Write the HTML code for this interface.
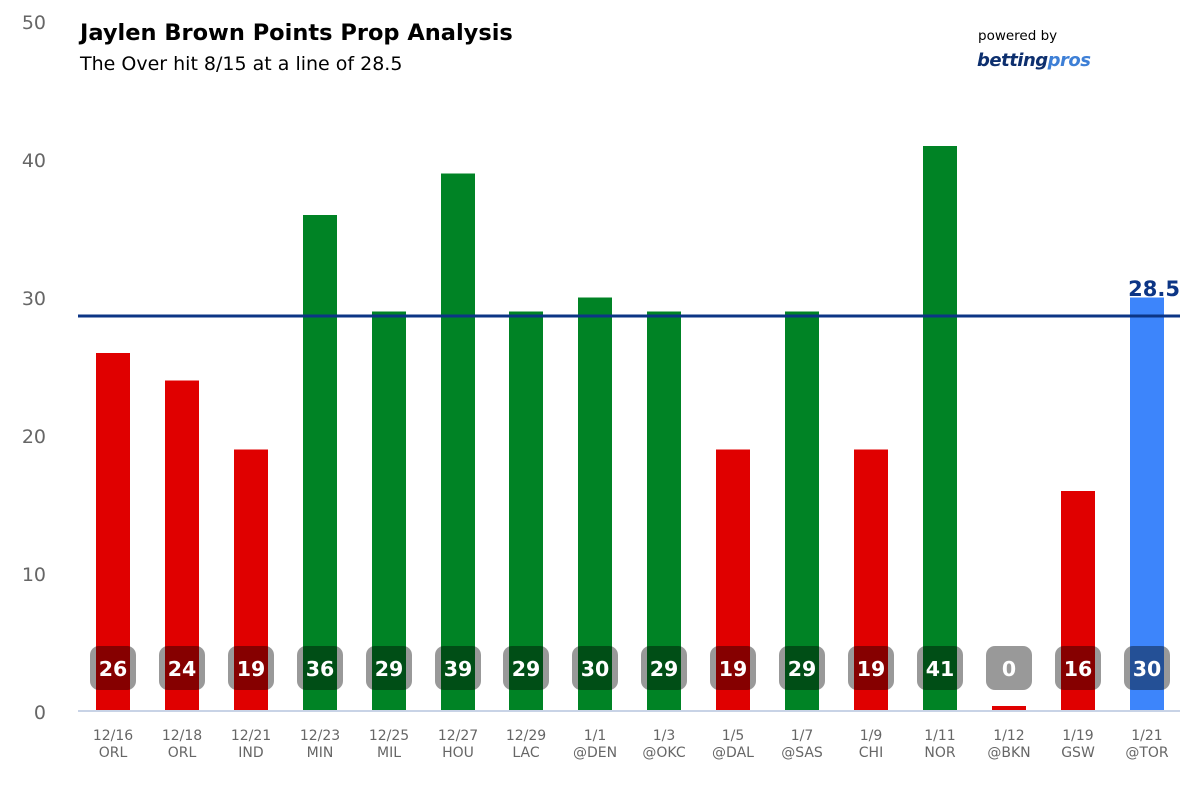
<!DOCTYPE html>
<html><head><meta charset="utf-8"><style>body{margin:0;background:#fff}svg{display:block}</style></head><body>
<svg width="1200" height="800" viewBox="0 0 1200 800" xmlns="http://www.w3.org/2000/svg" font-family="DejaVu Sans, Liberation Sans, sans-serif">
<rect width="1200" height="800" fill="#fff"/>
<g fill="#666" font-size="19" text-anchor="end">
<text x="46" y="29">50</text><text x="46" y="167">40</text><text x="46" y="305">30</text><text x="46" y="443">20</text><text x="46" y="581">10</text><text x="46" y="719">0</text>
</g>
<text x="80" y="40" font-size="22.5" font-weight="bold" fill="#000">Jaylen Brown Points Prop Analysis</text>
<text x="80" y="70" font-size="19" fill="#000">The Over hit 8/15 at a line of 28.5</text>
<text x="978" y="40" font-size="13.5" fill="#000">powered by</text>
<text x="977" y="66" font-size="18" font-weight="bold" font-style="italic" fill="#0d2f6e" letter-spacing="-0.5">betting<tspan fill="#3d7fd6">pros</tspan></text>
<g>
<rect x="96" y="353" width="34" height="357" fill="#e00000"/>
<rect x="165" y="380.5" width="34" height="329.5" fill="#e00000"/>
<rect x="234" y="449.5" width="34" height="260.5" fill="#e00000"/>
<rect x="303" y="215" width="34" height="495" fill="#008325"/>
<rect x="372" y="311.5" width="34" height="398.5" fill="#008325"/>
<rect x="441" y="173.5" width="34" height="536.5" fill="#008325"/>
<rect x="509" y="311.5" width="34" height="398.5" fill="#008325"/>
<rect x="578" y="297.5" width="34" height="412.5" fill="#008325"/>
<rect x="647" y="311.5" width="34" height="398.5" fill="#008325"/>
<rect x="716" y="449.5" width="34" height="260.5" fill="#e00000"/>
<rect x="785" y="311.5" width="34" height="398.5" fill="#008325"/>
<rect x="854" y="449.5" width="34" height="260.5" fill="#e00000"/>
<rect x="923" y="146" width="34" height="564" fill="#008325"/>
<rect x="992" y="706" width="34" height="4" fill="#e00000"/>
<rect x="1061" y="491" width="34" height="219" fill="#e00000"/>
<rect x="1130" y="297.5" width="34" height="412.5" fill="#3d85fb"/>
</g>
<g fill="#000" fill-opacity="0.4">
<rect x="90" y="646" width="46" height="44" rx="9"/><rect x="159" y="646" width="46" height="44" rx="9"/><rect x="228" y="646" width="46" height="44" rx="9"/><rect x="297" y="646" width="46" height="44" rx="9"/><rect x="366" y="646" width="46" height="44" rx="9"/><rect x="435" y="646" width="46" height="44" rx="9"/><rect x="503" y="646" width="46" height="44" rx="9"/><rect x="572" y="646" width="46" height="44" rx="9"/><rect x="641" y="646" width="46" height="44" rx="9"/><rect x="710" y="646" width="46" height="44" rx="9"/><rect x="779" y="646" width="46" height="44" rx="9"/><rect x="848" y="646" width="46" height="44" rx="9"/><rect x="917" y="646" width="46" height="44" rx="9"/><rect x="986" y="646" width="46" height="44" rx="9"/><rect x="1055" y="646" width="46" height="44" rx="9"/><rect x="1124" y="646" width="46" height="44" rx="9"/>
</g>
<g fill="#fff" font-size="20.5" font-weight="bold" text-anchor="middle">
<text x="113" y="676">26</text><text x="182" y="676">24</text><text x="251" y="676">19</text><text x="320" y="676">36</text><text x="389" y="676">29</text><text x="458" y="676">39</text><text x="526" y="676">29</text><text x="595" y="676">30</text><text x="664" y="676">29</text><text x="733" y="676">19</text><text x="802" y="676">29</text><text x="871" y="676">19</text><text x="940" y="676">41</text><text x="1009" y="676">0</text><text x="1078" y="676">16</text><text x="1147" y="676">30</text>
</g>
<g fill="#666" font-size="14" text-anchor="middle">
<text x="113" y="740">12/16</text><text x="182" y="740">12/18</text><text x="251" y="740">12/21</text><text x="320" y="740">12/23</text><text x="389" y="740">12/25</text><text x="458" y="740">12/27</text><text x="526" y="740">12/29</text><text x="595" y="740">1/1</text><text x="664" y="740">1/3</text><text x="733" y="740">1/5</text><text x="802" y="740">1/7</text><text x="871" y="740">1/9</text><text x="940" y="740">1/11</text><text x="1009" y="740">1/12</text><text x="1078" y="740">1/19</text><text x="1147" y="740">1/21</text>
<text x="113" y="757">ORL</text><text x="182" y="757">ORL</text><text x="251" y="757">IND</text><text x="320" y="757">MIN</text><text x="389" y="757">MIL</text><text x="458" y="757">HOU</text><text x="526" y="757">LAC</text><text x="595" y="757">@DEN</text><text x="664" y="757">@OKC</text><text x="733" y="757">@DAL</text><text x="802" y="757">@SAS</text><text x="871" y="757">CHI</text><text x="940" y="757">NOR</text><text x="1009" y="757">@BKN</text><text x="1078" y="757">GSW</text><text x="1147" y="757">@TOR</text>
</g>
<line x1="78" y1="711" x2="1180" y2="711" stroke="#c8d3e6" stroke-width="2"/>
<line x1="78" y1="316" x2="1180" y2="316" stroke="#0c3585" stroke-width="3"/>
<text x="1180" y="296" font-size="21" font-weight="bold" fill="#0c3585" text-anchor="end">28.5</text>
</svg>
</body></html>
